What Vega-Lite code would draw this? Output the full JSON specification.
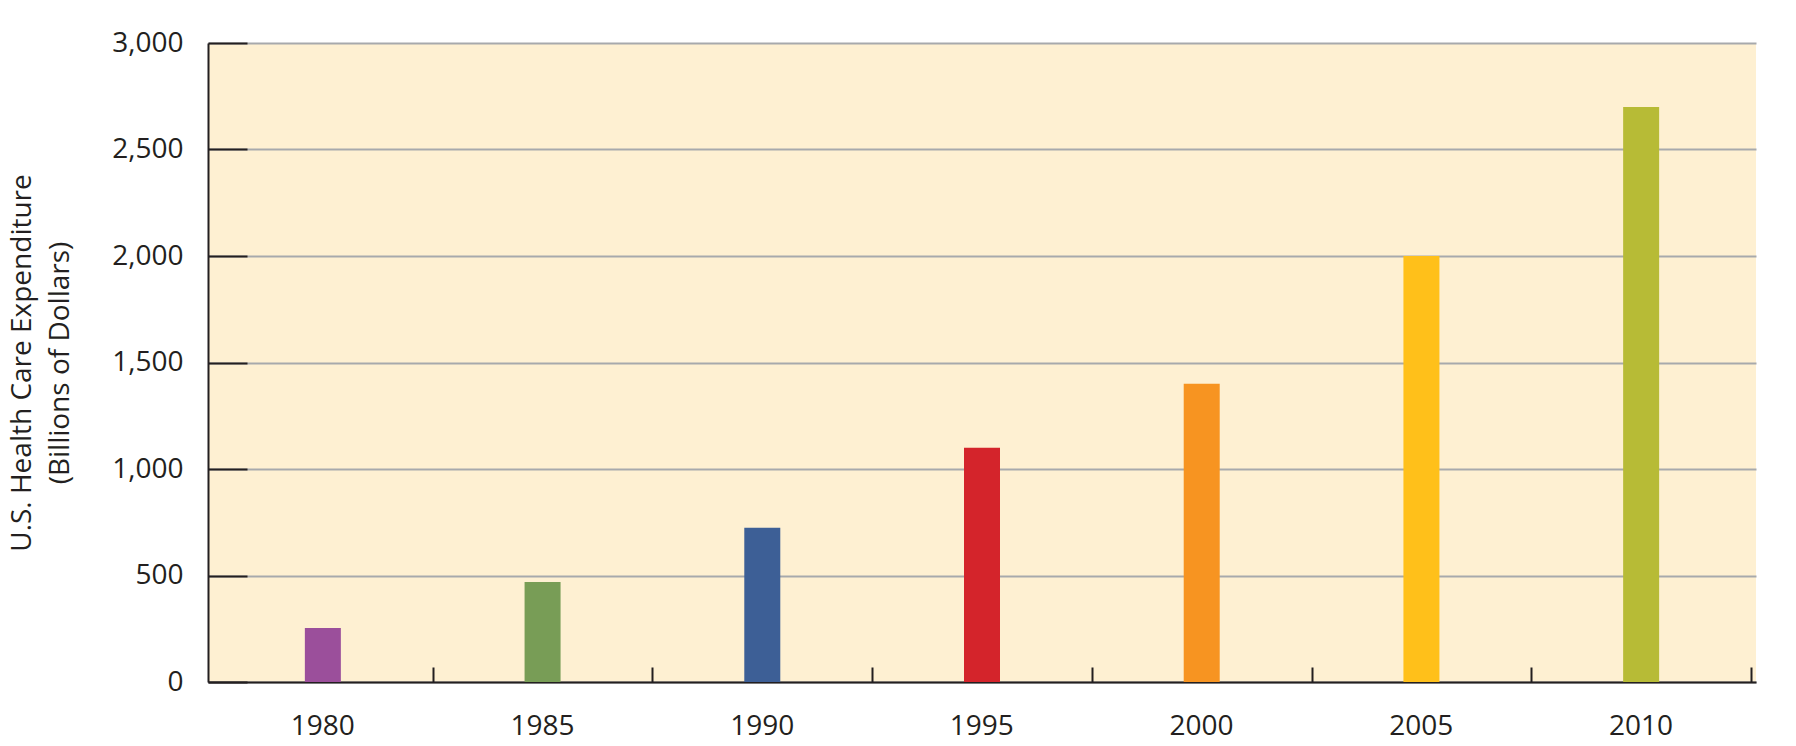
{
  "$schema": "https://vega.github.io/schema/vega-lite/v6.json",
  "width": 1548,
  "height": 639,
  "autosize": "none",
  "padding": {"left": 208, "top": 43, "right": 40, "bottom": 64},
  "background": "#ffffff",
  "config": {
    "view": {"fill": "#FEF0D2", "stroke": null},
    "font": "Open Sans",
    "axis": {
      "labelFont": "Open Sans",
      "titleFont": "Open Sans",
      "labelColor": "#231F20",
      "titleColor": "#231F20",
      "labelFontSize": 28,
      "titleFontSize": 28,
      "titleFontWeight": "normal",
      "domainColor": "#231F20",
      "domainWidth": 2,
      "tickColor": "#231F20",
      "tickWidth": 2
    }
  },
  "data": {
    "values": [
      {"year": 1980, "expenditure": 253},
      {"year": 1985, "expenditure": 470},
      {"year": 1990, "expenditure": 724},
      {"year": 1995, "expenditure": 1100},
      {"year": 2000, "expenditure": 1400},
      {"year": 2005, "expenditure": 2000},
      {"year": 2010, "expenditure": 2700}
    ]
  },
  "mark": {"type": "bar", "width": 36},
  "encoding": {
    "x": {
      "field": "year",
      "type": "quantitative",
      "scale": {"domain": [1977.5, 2012.5], "nice": false, "zero": false},
      "axis": {
        "title": null,
        "grid": false,
        "values": [1982.5, 1987.5, 1992.5, 1997.5, 2002.5, 2007.5, 2012.5],
        "labelExpr": "format(datum.value - 2.5, 'd')",
        "labelOffset": -110.5,
        "labelAlign": "center",
        "tickSize": -15,
        "labelPadding": 45,
        "labelFlush": false,
        "labelOverlap": false
      }
    },
    "y": {
      "field": "expenditure",
      "type": "quantitative",
      "scale": {"domain": [0, 3000], "nice": false},
      "axis": {
        "title": ["U.S. Health Care Expenditure", "(Billions of Dollars)"],
        "titleLineHeight": 38,
        "values": [0, 500, 1000, 1500, 2000, 2500, 3000],
        "format": ",.0f",
        "grid": true,
        "gridColor": "#A7A9AC",
        "gridWidth": 2,
        "tickSize": -39,
        "labelPadding": 64,
        "titlePadding": 37
      }
    },
    "color": {
      "field": "year",
      "type": "nominal",
      "legend": null,
      "scale": {
        "domain": [1980, 1985, 1990, 1995, 2000, 2005, 2010],
        "range": ["#9B4F9B", "#789D56", "#3D5F96", "#D4242B", "#F79421", "#FFC01A", "#B7BB36"]
      }
    }
  }
}
